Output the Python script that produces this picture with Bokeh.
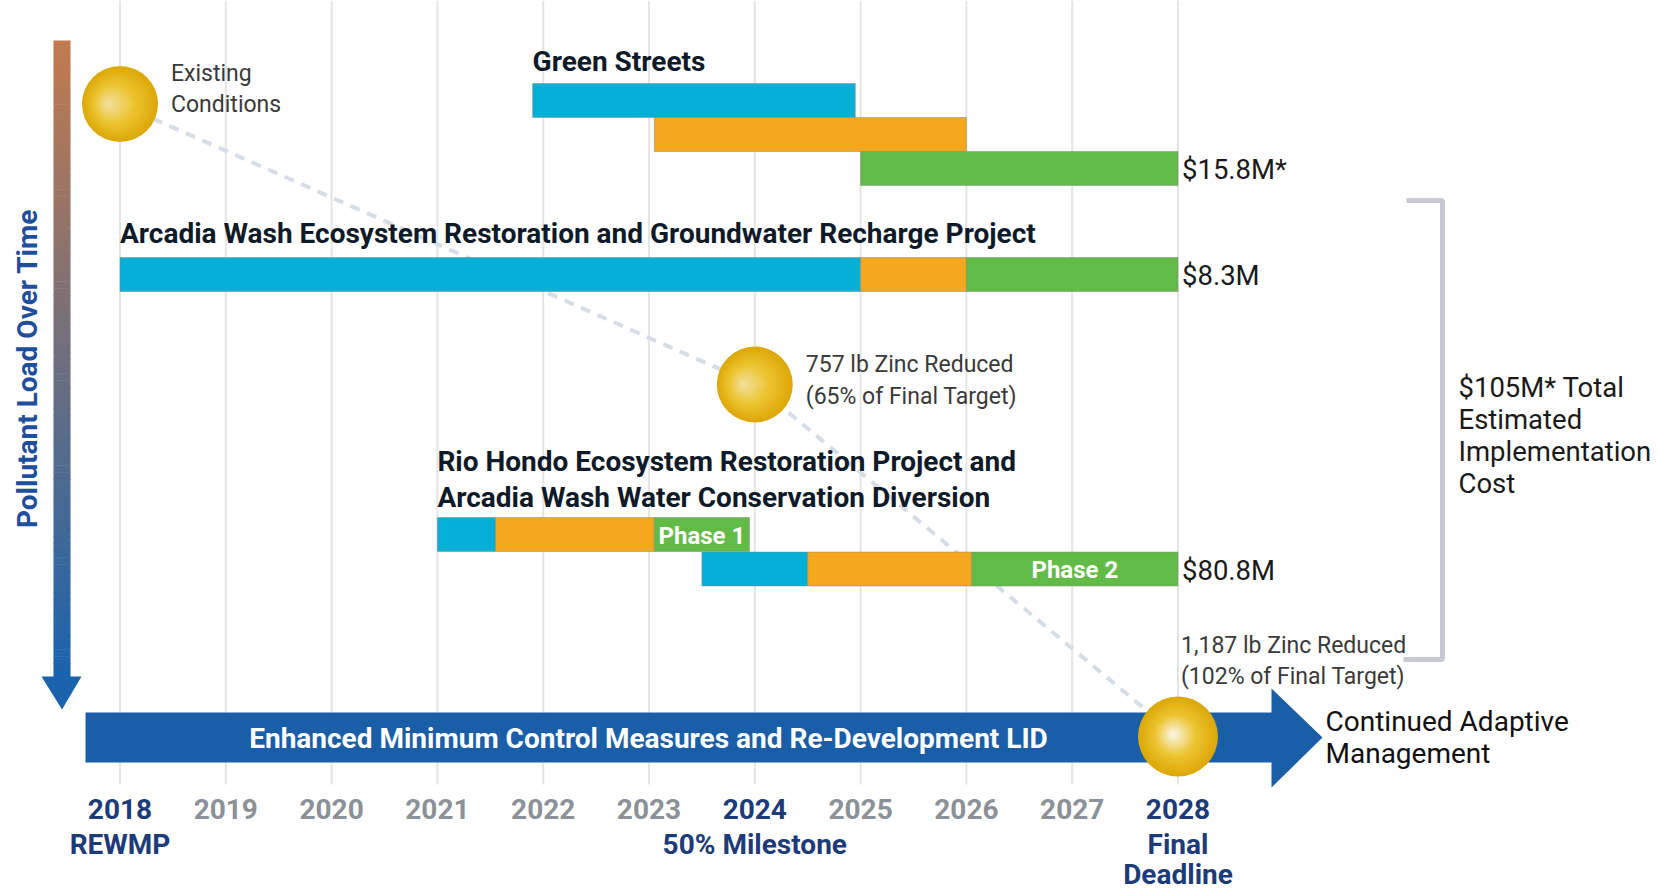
from bokeh.plotting import figure
from bokeh.models import Range1d
from bokeh.core.properties import value
from bokeh.embed import file_html
from bokeh.resources import INLINE

# ---------------- data ----------------
years = [2018, 2019, 2020, 2021, 2022, 2023, 2024, 2025, 2026, 2027, 2028]
year_labels = [str(y) for y in years]
key_years = [2018, 2024, 2028]
key_year_notes = [["REWMP"], ["50% Milestone"], ["Final", "Deadline"]]

project_names = [
    ["Green Streets"],
    ["Arcadia Wash Ecosystem Restoration and Groundwater Recharge Project"],
    ["Rio Hondo Ecosystem Restoration Project and", "Arcadia Wash Water Conservation Diversion"],
]
project_label_year = [2021.9, 2018.0, 2021.0]
project_costs = ["$15.8M*", "$8.3M", "$80.8M"]
project_cost_row = [2, 3, 5]
total_cost_lines = ["$105M* Total", "Estimated", "Implementation", "Cost"]

# schedule segments (row, phase, start year, end year)
seg_row = [0, 1, 2, 3, 3, 3, 4, 4, 4, 5, 5, 5]
seg_phase = ["plan", "design", "build", "plan", "design", "build",
             "plan", "design", "build", "plan", "design", "build"]
seg_start = [2021.9, 2023.05, 2025.0, 2018.0, 2025.0, 2026.0,
             2021.0, 2021.55, 2023.05, 2023.5, 2024.5, 2026.05]
seg_end = [2024.95, 2026.0, 2028.0, 2025.0, 2026.0, 2028.0,
           2021.55, 2023.05, 2023.95, 2024.5, 2026.05, 2028.0]
phase_names = ["Phase 1", "Phase 2"]
phase_rows = [4, 5]

zinc_years = [2018, 2024, 2028]
zinc_notes = [["Existing", "Conditions"],
              ["757 lb Zinc Reduced", "(65% of Final Target)"],
              ["1,187 lb Zinc Reduced", "(102% of Final Target)"]]

mcm_label = "Enhanced Minimum Control Measures and Re-Development LID"
continued_label = ["Continued Adaptive", "Management"]
y_axis_label = "Pollutant Load Over Time"

# ---------------- layout / style ----------------
W, H = 1660, 890
PX0, PXYR = 119.5, 105.8          # page x of 2018, px per year


def yr(px):
    return 2018 + (px - PX0) / PXYR


row_y = [100, 134, 168, 274, 534, 568.5]
BAR_H = 34
zinc_y = [103.5, 384, 736]
phase_color = {"plan": "#06afd5", "design": "#f5a71d", "build": "#63bb47"}
FONT = value("Roboto")
NAVY = "#1c3b78"
DARK = "#0f1a28"

p = figure(width=W, height=H, output_backend="svg", toolbar_location=None,
           x_range=Range1d(yr(0), yr(W)), y_range=Range1d(H, 0),
           min_border=0, background_fill_color="white", border_fill_color="white")
p.axis.visible = False
p.grid.visible = False
p.outline_line_color = None

# grid lines
p.segment(x0=years, x1=years, y0=[0] * len(years), y1=[784] * len(years),
          line_color="#e5e5e5", line_width=2)

# dashed pollutant-load trend
p.line(x=zinc_years, y=zinc_y, line_color="#d6dde6", line_width=4, line_dash="10 8")

# left gradient arrow
N = 90
top, bot = 40.0, 677.0
c0, c1 = (194, 122, 78), (26, 99, 173)
tops, bots, cols = [], [], []
for i in range(N):
    t = i / (N - 1)
    tops.append(top + (bot - top) * i / N)
    bots.append(top + (bot - top) * (i + 1) / N + 0.6)
    c = tuple(int(round(a + (b - a) * t)) for a, b in zip(c0, c1))
    cols.append("#%02x%02x%02x" % c)
p.quad(left=[yr(53)] * N, right=[yr(70)] * N, top=tops, bottom=bots,
       fill_color=cols, line_color=None)
p.patch(x=[yr(41), yr(81), yr(61.5)], y=[676, 676, 709], fill_color="#1a63ad", line_color=None)
p.text(x=[yr(27)], y=[368], text=[y_axis_label], angle=1.5708,
       text_font=FONT, text_font_style="bold", text_font_size="28px",
       text_color="#1f4e9c", text_align="center", text_baseline="middle")

# schedule bars
p.quad(left=seg_start, right=seg_end,
       top=[row_y[r] - BAR_H / 2 for r in seg_row],
       bottom=[row_y[r] + BAR_H / 2 for r in seg_row],
       fill_color=[phase_color[ph] for ph in seg_phase],
       line_color="#7d8a80", line_width=0.8, line_alpha=0.6)

# phase labels
for name, r in zip(phase_names, phase_rows):
    i = [k for k in range(len(seg_row)) if seg_row[k] == r and seg_phase[k] == "build"][0]
    p.text(x=[(seg_start[i] + seg_end[i]) / 2], y=[row_y[r] + 1], text=[name],
           text_font=FONT, text_font_style="bold", text_font_size="24px",
           text_color="white", text_align="center", text_baseline="middle")

# project titles
title_y = [[61], [232.5], [460.5, 497]]
for lines, x0, ys in zip(project_names, project_label_year, title_y):
    p.text(x=[x0] * len(lines), y=ys, text=lines, text_font=FONT, text_font_style="bold",
           text_font_size="28px", text_color=DARK, text_align="left", text_baseline="middle")

# costs
p.text(x=[2028] * 3, y=[row_y[r] + 1 for r in project_cost_row], text=project_costs, x_offset=4,
       text_font=FONT, text_font_size="27.5px", text_color="#1a1a1a",
       text_align="left", text_baseline="middle")

# bracket + total
p.line(x=[yr(1406), yr(1442), yr(1442), yr(1403)], y=[200, 200, 659, 659],
       line_color="#c6cad0", line_width=5)
p.text(x=[yr(1458)] * 4, y=[387, 419, 451, 483], text=total_cost_lines,
       text_font=FONT, text_font_size="27.5px", text_color="#1a1a1a",
       text_align="left", text_baseline="middle")

# main MCM arrow
ax = [yr(85), yr(1271), yr(1271), yr(1322), yr(1271), yr(1271), yr(85)]
ay = [712, 712, 688, 737, 787, 762, 762]
p.patch(x=ax, y=ay, fill_color="#1a5ea8", line_color=None)
p.text(x=[yr(648)], y=[737.5], text=[mcm_label], text_font=FONT, text_font_style="bold",
       text_font_size="28px", text_color="white", text_align="center", text_baseline="middle")
p.text(x=[yr(1325)] * 2, y=[721, 753], text=continued_label, text_font=FONT,
       text_font_size="28px", text_color="#111111", text_align="left", text_baseline="middle")


# zinc milestone balls
def ball(xc, yc, r, hx, hy, hi):
    n = 22
    rim, mid = (221, 168, 8), (236, 196, 48)
    xs, ys, sz, cl = [], [], [], []
    for i in range(n):
        t = i / (n - 1)
        if t < 0.5:
            a, b, u = rim, mid, t / 0.5
        else:
            a, b, u = mid, hi, (t - 0.5) / 0.5
        c = tuple(int(round(aa + (bb - aa) * u)) for aa, bb in zip(a, b))
        rr = r * (1 - 0.93 * t)
        xs.append(xc + hx * r * t / PXYR)
        ys.append(yc + hy * r * t)
        sz.append(2 * rr)
        cl.append("#%02x%02x%02x" % c)
    p.scatter(x=xs, y=ys, size=sz, fill_color=cl, line_color=None)


ball(zinc_years[0], zinc_y[0], 38, -0.3, 0.0, (242, 222, 150))
ball(zinc_years[1], zinc_y[1], 38, -0.3, 0.0, (242, 222, 150))
ball(zinc_years[2], zinc_y[2], 40, -0.12, -0.05, (250, 242, 215))

note_dx = [51, 51, 3]
note_y = [[72.5, 103.5], [363.5, 395.5], [645, 676]]
for yv, lines, dx, ys in zip(zinc_years, zinc_notes, note_dx, note_y):
    p.text(x=[yv] * 2, y=ys, text=lines, x_offset=dx, text_font=FONT, text_font_size="23px",
           text_color="#3a3a3a", text_align="left", text_baseline="middle")

# year labels
p.text(x=years, y=[808] * len(years), text=year_labels, text_font=FONT, text_font_style="bold",
       text_font_size="28px", text_color=[NAVY if y in key_years else "#8b9197" for y in years],
       text_align="center", text_baseline="middle")
note_ys = [[843.5], [843.5], [843.5, 874]]
for yv, lines, ys in zip(key_years, key_year_notes, note_ys):
    p.text(x=[yv] * len(lines), y=ys, text=lines, text_font=FONT, text_font_style="bold",
           text_font_size="28px", text_color=NAVY, text_align="center", text_baseline="middle")

open("out.html", "w").write(file_html(p, INLINE))
